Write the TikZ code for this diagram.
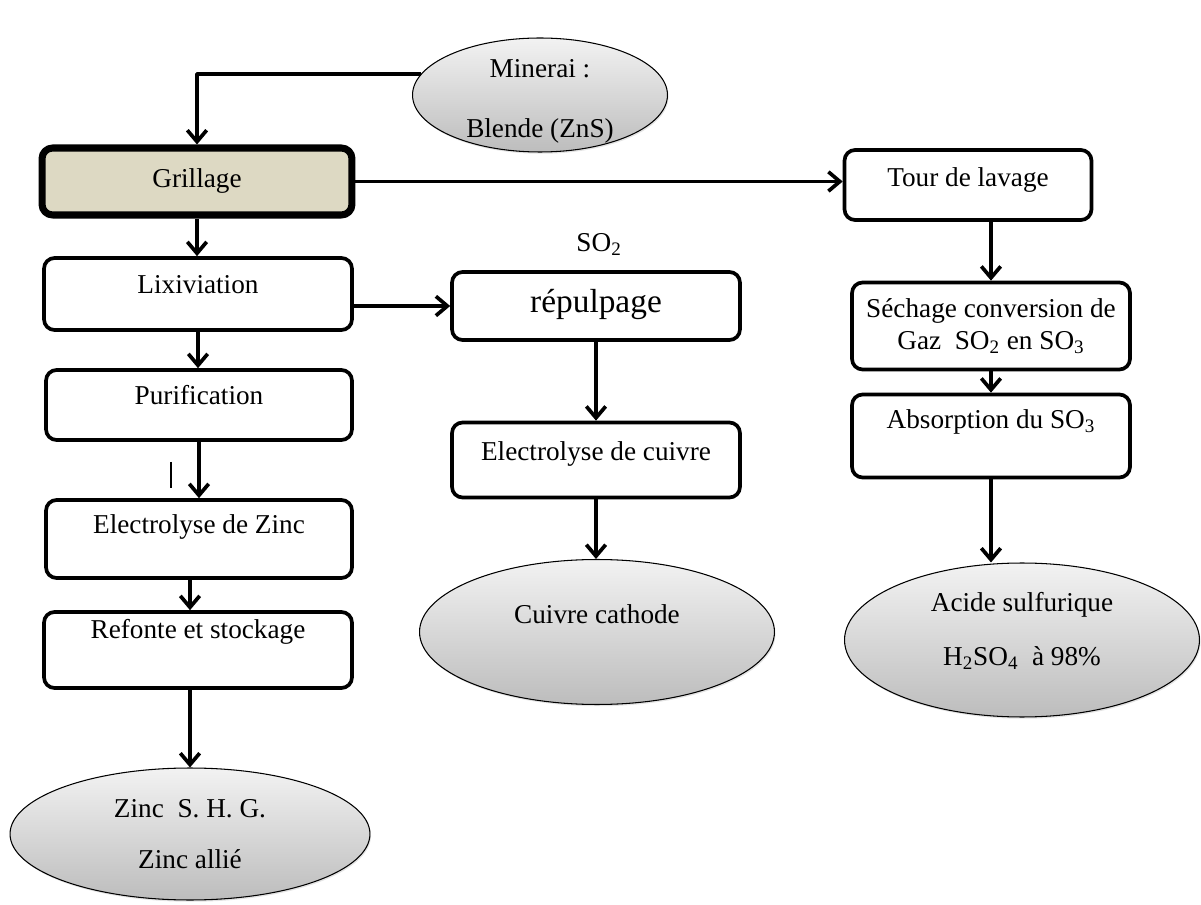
\documentclass[tikz,border=0pt]{standalone}
\usepackage{fontspec}
\setmainfont{Liberation Serif}
\usepackage{tikz}
\usepackage{xcolor}
\usetikzlibrary{shapes}
\usetikzlibrary{shadows}
\usetikzlibrary{positioning, arrows.meta}

\definecolor{grille}{HTML}{DDD9C3}

\begin{document}
\begin{tikzpicture}[x=0.02cm, y=-0.02cm, line join=round,
    font=\fontsize{15.5}{18.6}\selectfont,
    etape/.style = {draw, line width=2.1pt, rounded corners=6pt, fill=white, align=center, inner sep=0pt},
    haut/.style = {text height=11pt, text depth=#1},
    haut/.default = 4pt,
    produit/.style = {draw, ellipse, line width=0.6pt, top color=white!95!black, bottom color=white!74!black, inner sep=0pt, align=center, drop shadow={shadow xshift=0.6pt, shadow yshift=-1pt, opacity=0.22}},
    texte/.style = {align=center, yshift=#1},
    fleche/.style = {line width=2.1pt, -{Straight Barb[length=6.5pt, width=11pt]}}]
    \useasboundingbox (0,0) rectangle (1201,905);

    % Nodes
    \node[produit, minimum width=5.1cm, minimum height=2.28cm,
          label={[texte=-3.5pt]center:{Minerai :\\[15.5pt] Blende (ZnS)}}] (min) at (540,95) {};
    \node[etape, haut, minimum width=6.2cm, minimum height=1.34cm, line width=4pt, fill=grille] (grill) at (197,181.5) {Grillage};

    % zinc
    \node[etape, haut=11.3pt, minimum width=6.16cm, minimum height=1.44cm] (lix) at (198,294) {Lixiviation};
    \node[etape, haut=11.3pt, minimum width=6.12cm, minimum height=1.4cm] (pur) at (199,405) {Purification};
    \node[etape, haut=17pt, minimum width=6.12cm, minimum height=1.56cm] (elz) at (199,539) {Electrolyse de Zinc};
    \node[etape, haut=23.8pt, minimum width=6.16cm, minimum height=1.52cm] (ref) at (198,650) {Refonte et stockage};
    \node[produit, minimum width=7.2cm, minimum height=2.64cm] (zinc) at (190,834) {Zinc\ \ S.~H.~G.\\[10pt] Zinc allié};

    % cuivre
    \node[etape, haut, minimum width=5.76cm, minimum height=1.36cm, font=\fontsize{19}{22}\selectfont] (rep) at (596,306) {répulpage};
    \node[etape, haut=10pt, minimum width=5.76cm, minimum height=1.5cm] (elc) at (596,460) {Electrolyse de cuivre};
    \node[produit, haut=20.4pt, minimum width=7.1cm, minimum height=2.9cm] (cuiv) at (597,632) {Cuivre cathode};

    % acide
    \node[etape, haut=9pt, minimum width=4.94cm, minimum height=1.4cm] (tour) at (968,185) {Tour de lavage};
    \node[etape, minimum width=5.56cm, minimum height=1.74cm] (sech) at (991,326) {Séchage conversion de\\Gaz\ \ SO\textsubscript{2} en SO\textsubscript{3}};
    \node[etape, haut=19.2pt, minimum width=5.56cm, minimum height=1.66cm] (abs) at (991,436) {Absorption du SO\textsubscript{3}};
    \node[produit, minimum width=7.1cm, minimum height=3.08cm,
          label={[texte=5pt]center:{Acide sulfurique\\[12pt] H\textsubscript{2}SO\textsubscript{4}\ \ à 98\%}}] (acid) at (1022,640) {};

    % Lines
    \draw[fleche] (min.170) -| (grill.north);
    \draw[fleche] (grill.east) -- (grill.east -| tour.west) node[midway, below=0.88cm] {SO\textsubscript{2}};
    \draw[fleche] (grill.south) -- (grill.south |- lix.north);
    \draw[fleche] (lix.east |- rep.west) -- (rep.west);
    \draw[fleche] (lix.south) -- (lix.south |- pur.north);
    \draw[fleche] (pur.south) -- (pur.south |- elz.north);
    \draw[line width=0.6pt] (171,462) -- (171,488);
    \draw[fleche] (elz.south -| zinc.north) -- (ref.north -| zinc.north);
    \draw[fleche] (ref.south -| zinc.north) -- (zinc.north);

    \draw[fleche] (rep.south) -- (rep.south |- elc.north);
    \draw[fleche] (elc.south) -- (elc.south |- cuiv.north);

    \draw[fleche] (tour.south -| sech.north) -- (sech.north);
    \draw[fleche] (sech.south) -- (abs.north);
    \draw[fleche] (abs.south) -- (abs.south |- acid.north);

\end{tikzpicture}
\end{document}
